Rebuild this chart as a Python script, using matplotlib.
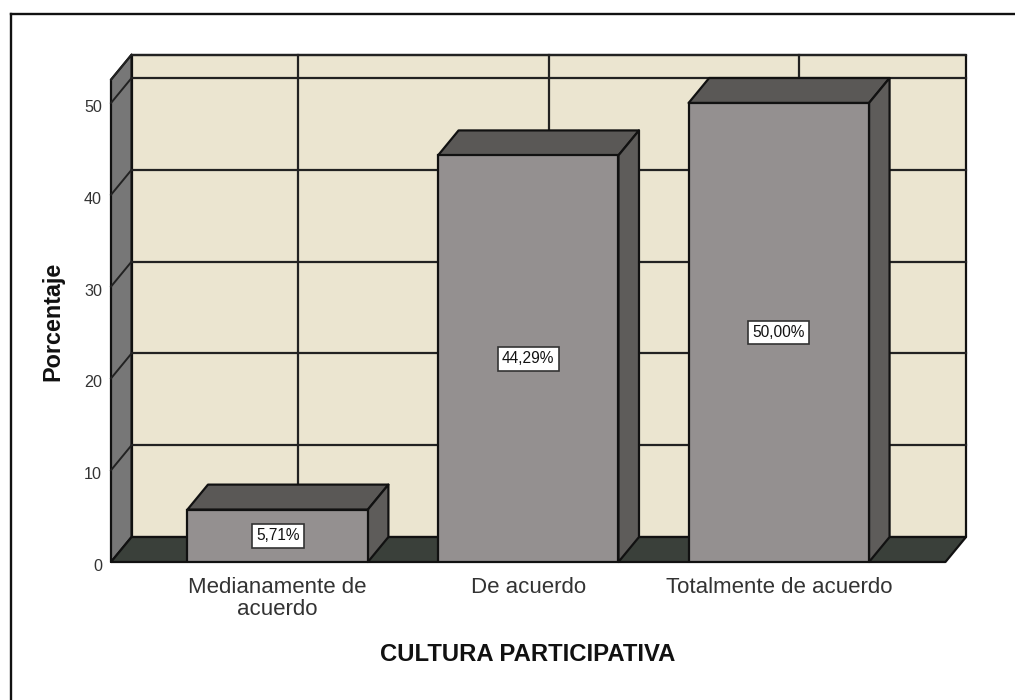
import matplotlib
matplotlib.use("Agg")
import matplotlib.pyplot as plt
from matplotlib.lines import Line2D
from matplotlib.patches import Polygon
from matplotlib.transforms import ScaledTranslation

categories = ["Medianamente de\nacuerdo", "De acuerdo", "Totalmente de acuerdo"]
percentages = [5.71, 44.29, 50.00]
value_labels = ["5,71%", "44,29%", "50,00%"]
y_ticks = [0, 10, 20, 30, 40, 50]

WALL = "#ebe5d0"
SIDE_WALL = "#777777"
FLOOR = "#3a403a"
BAR_FRONT = "#949090"
BAR_TOP = "#5a5856"
BAR_SIDE = "#5e5c5a"
EDGE = "#111111"

plt.rcParams["font.family"] = ["Liberation Sans", "DejaVu Sans"]

W, H = 1015, 700
fig = plt.figure(figsize=(W / 100, H / 100), dpi=100, facecolor="white")
ax = fig.add_axes([111 / W, (H - 562) / H, (966 - 111) / W, (562 - 54.7) / H])

# depth of the fake 3d box, in data units
dx = 0.082
dy = 2.72
x0, x1 = -0.665, 2.665
y1 = 52.54
ax.set_xlim(x0, x1 + dx)
ax.set_ylim(0, y1 + dy)
ax.patch.set_visible(False)
for s in ax.spines.values():
    s.set_visible(False)


def face(points, color, z, lw=1.6):
    ax.add_patch(Polygon(points, closed=True, facecolor=color, edgecolor=EDGE,
                         linewidth=lw, joinstyle="round", zorder=z, clip_on=False))


# back wall, left wall, floor
face([(x0 + dx, dy), (x1 + dx, dy), (x1 + dx, y1 + dy), (x0 + dx, y1 + dy)], WALL, 1)
face([(x0, 0), (x0 + dx, dy), (x0 + dx, y1 + dy), (x0, y1)], SIDE_WALL, 1)
face([(x0, 0), (x1, 0), (x1 + dx, dy), (x0 + dx, dy)], FLOOR, 1)

# grid lines on the walls
for t in y_ticks[1:] + [y1]:
    ax.plot([x0 + dx, x1 + dx], [t + dy, t + dy], color="#222222", lw=1.6, zorder=2, clip_on=False)
    ax.plot([x0, x0 + dx], [t, t + dy], color="#222222", lw=1.4, zorder=2, clip_on=False)
for i in range(len(categories)):
    ax.plot([i + dx, i + dx], [dy, y1 + dy], color="#222222", lw=1.6, zorder=2, clip_on=False)

# bars
bar_w = 0.36
for i, v in enumerate(percentages):
    l, r = i - bar_w, i + bar_w
    face([(l, v), (r, v), (r + dx, v + dy), (l + dx, v + dy)], BAR_TOP, 3)
    face([(r, 0), (r + dx, dy), (r + dx, v + dy), (r, v)], BAR_SIDE, 3)
    ax.bar(i, v, width=2 * bar_w, color=BAR_FRONT, edgecolor=EDGE, linewidth=1.6, zorder=4)
    ax.text(i, v / 2, value_labels[i], ha="center", va="center", fontsize=11.2, color="#111111", zorder=5,
            bbox=dict(boxstyle="square,pad=0.28", facecolor="white", edgecolor="#333333", linewidth=1.2))

ax.set_yticks(y_ticks)
ax.set_yticklabels([str(t) for t in y_ticks], fontsize=11.6, color="#333333")
ax.set_xticks(range(len(categories)))
ax.set_xticklabels(categories, fontsize=16, color="#333333", linespacing=1.06)
ax.tick_params(axis="y", length=0, pad=6.5)
ax.tick_params(axis="x", length=0, pad=10.5)
for lab in ax.get_yticklabels():
    lab.set_transform(lab.get_transform() + ScaledTranslation(0, -2.2 / 72, fig.dpi_scale_trans))

ax.set_ylabel("Porcentaje", fontsize=16.8, fontweight="bold", color="#111111")
ax.yaxis.set_label_coords((64 - 111) / (966 - 111), (562 - 321) / (562 - 54.7))
ax.set_xlabel("CULTURA PARTICIPATIVA", fontsize=17.2, fontweight="bold", color="#111111")
ax.xaxis.set_label_coords((528 - 111) / (966 - 111), (562 - 643) / (562 - 54.7))

# frame of the pasted picture
fig.add_artist(Line2D([10.5 / W, 10.5 / W], [0, 1 - 13.5 / H], color="#111111", lw=1.7))
fig.add_artist(Line2D([10.5 / W, 1], [1 - 13.5 / H, 1 - 13.5 / H], color="#111111", lw=1.7))

fig.savefig("out.png", dpi=100)
